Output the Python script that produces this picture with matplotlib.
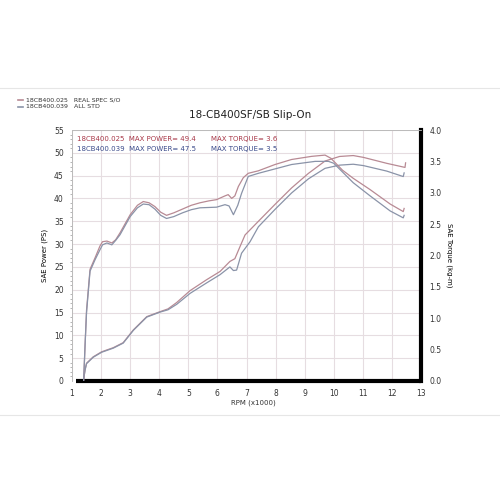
import matplotlib
matplotlib.use("Agg")
import matplotlib.pyplot as plt
from matplotlib.lines import Line2D

# rpm (x1000) / power (PS) / torque (kg-m)
rpm_p_red = [1.39, 1.45, 1.5, 1.73, 2.02, 2.42, 2.76, 3.11, 3.57, 4.03, 4.3, 4.6, 5.06, 5.63, 6.09, 6.43, 6.6,
             6.78, 6.95, 7.41, 7.98, 8.55, 9.13, 9.7, 10.2, 10.67, 11.02, 11.82, 12.45, 12.47]
pow_red = [0, 2.5, 3.9, 5.3, 6.4, 7.3, 8.4, 11.2, 14.1, 15.2, 15.8, 17.2, 19.8, 22.2, 24.0, 26.2, 26.8,
           29.5, 32.0, 35.0, 38.7, 42.3, 45.5, 48.2, 49.2, 49.4, 49.0, 47.7, 46.8, 47.8]

rpm_p_blue = [1.39, 1.45, 1.5, 1.73, 2.02, 2.42, 2.76, 3.11, 3.57, 4.03, 4.3, 4.6, 5.06, 5.63, 6.09, 6.43, 6.55,
              6.66, 6.83, 7.12, 7.41, 7.98, 8.55, 9.13, 9.7, 10.2, 10.67, 11.02, 11.82, 12.39, 12.42]
pow_blue = [0, 2.4, 3.8, 5.2, 6.3, 7.2, 8.3, 11.1, 14.0, 15.1, 15.6, 16.8, 19.2, 21.5, 23.3, 25.0, 24.2,
            24.3, 28.0, 30.5, 33.8, 37.6, 41.2, 44.3, 46.6, 47.3, 47.5, 47.2, 46.0, 44.8, 45.6]

rpm_t_red = [1.40, 1.45, 1.5, 1.62, 1.79, 1.96, 2.05, 2.2, 2.37, 2.5, 2.65, 3.0, 3.25, 3.45, 3.65, 3.85, 4.05,
             4.25, 4.5, 4.8, 5.1, 5.4, 5.7, 5.97, 6.26, 6.37, 6.49, 6.6, 6.72, 6.89, 7.06, 7.41, 7.98, 8.55,
             9.24, 9.7, 9.9, 10.3, 10.67, 11.25, 11.94, 12.39, 12.42]
trq_red = [0, 0.58, 1.13, 1.78, 1.96, 2.15, 2.22, 2.23, 2.20, 2.25, 2.36, 2.65, 2.80, 2.86, 2.84, 2.78, 2.69,
           2.64, 2.68, 2.74, 2.80, 2.84, 2.87, 2.89, 2.95, 2.97, 2.91, 2.95, 3.10, 3.24, 3.31, 3.35, 3.45, 3.53,
           3.58, 3.60, 3.55, 3.36, 3.23, 3.05, 2.82, 2.70, 2.75]

rpm_t_blue = [1.40, 1.45, 1.5, 1.62, 1.79, 1.96, 2.05, 2.2, 2.37, 2.5, 2.65, 3.0, 3.25, 3.45, 3.65, 3.85, 4.05,
              4.25, 4.5, 4.8, 5.1, 5.4, 5.97, 6.26, 6.4, 6.55, 6.7, 6.83, 7.06, 7.41, 7.98, 8.55, 9.36, 9.82,
              10.0, 10.67, 11.25, 11.94, 12.39, 12.42]
trq_blue = [0, 0.58, 1.09, 1.75, 1.93, 2.09, 2.17, 2.20, 2.17, 2.24, 2.33, 2.62, 2.76, 2.82, 2.81, 2.74, 2.64,
            2.59, 2.62, 2.68, 2.73, 2.76, 2.77, 2.81, 2.79, 2.65, 2.80, 2.99, 3.26, 3.31, 3.38, 3.45, 3.50, 3.50,
            3.47, 3.16, 2.95, 2.71, 2.60, 2.64]

x_ticks = list(range(1, 14))
p_ticks = list(range(0, 56, 5))
t_ticks = [0.0, 0.5, 1.0, 1.5, 2.0, 2.5, 3.0, 3.5, 4.0]

c_red = "#b88a94"
c_blue = "#8a93a8"
txt_red = "#a83848"
txt_blue = "#3a4a8a"

fig = plt.figure(figsize=(5, 5), dpi=100)
ax = fig.add_axes([0.144, 0.238, 0.698, 0.502])
ax2 = ax.twinx()

ax.plot(rpm_p_red, pow_red, color=c_red, lw=0.9)
ax.plot(rpm_p_blue, pow_blue, color=c_blue, lw=0.9)
ax2.plot(rpm_t_red, trq_red, color=c_red, lw=0.9)
ax2.plot(rpm_t_blue, trq_blue, color=c_blue, lw=0.9)

ax.set_xlim(1, 13)
ax.set_ylim(0, 55)
ax2.set_ylim(0, 4)
ax.set_xticks(x_ticks)
ax.set_yticks(p_ticks)
ax2.set_yticks(t_ticks)
ax2.set_yticklabels(["%.1f" % t for t in t_ticks])
ax.set_yticks(range(0, 56, 1), minor=True)
ax.grid(True, color="#e6dde1", lw=0.8)
ax.set_axisbelow(True)

for a in (ax, ax2):
    a.tick_params(labelsize=5.5, colors="#333333", length=0, pad=6)
    for s in a.spines.values():
        s.set_color("#bbbbbb")
        s.set_linewidth(0.6)
ax.tick_params(axis="y", which="minor", length=1.5, color="#aaaaaa")
ax2.spines["right"].set_color("black")
ax2.spines["right"].set_linewidth(3)
ax2.spines["bottom"].set_visible(False)
ax.spines["bottom"].set_visible(False)
ax.plot([1.15, 13], [0, 0], color="black", lw=3, clip_on=False, solid_capstyle="butt")

ax.text(7.25, -0.085, "RPM (x1000)", transform=ax.get_xaxis_transform(), fontsize=5,
        ha="center", va="center", color="#333333")
ax.set_ylabel("SAE Power (PS)", fontsize=5, labelpad=4)
ax2.set_ylabel("SAE Torque (kg-m)", fontsize=5, rotation=270, labelpad=8)

ax.text(0.015, 0.975, "18CB400.025  MAX POWER= 49.4", transform=ax.transAxes, fontsize=5,
        color=txt_red, va="top")
ax.text(0.015, 0.935, "18CB400.039  MAX POWER= 47.5", transform=ax.transAxes, fontsize=5,
        color=txt_blue, va="top")
ax.text(0.398, 0.975, "MAX TORQUE= 3.6", transform=ax.transAxes, fontsize=5, color=txt_red, va="top")
ax.text(0.398, 0.935, "MAX TORQUE= 3.5", transform=ax.transAxes, fontsize=5, color=txt_blue, va="top")

fig.text(0.5, 0.77, "18-CB400SF/SB Slip-On", fontsize=7.5, ha="center", va="center", color="#222222")

# legend in the top-left corner of the sheet
fig.add_artist(Line2D([0.036, 0.046], [0.8, 0.8], color=c_red, lw=1.2))
fig.add_artist(Line2D([0.036, 0.046], [0.786, 0.786], color=c_blue, lw=1.2))
fig.text(0.052, 0.8, "18CB400.025   REAL SPEC S/O", fontsize=4.5, va="center", color="#333333")
fig.text(0.052, 0.786, "18CB400.039   ALL STD", fontsize=4.5, va="center", color="#333333")

# faint page borders
fig.add_artist(Line2D([0, 1], [0.824, 0.824], color="#e6e6e6", lw=0.8))
fig.add_artist(Line2D([0, 1], [0.17, 0.17], color="#e6e6e6", lw=0.8))

fig.savefig("out.png", dpi=100, facecolor="white")
